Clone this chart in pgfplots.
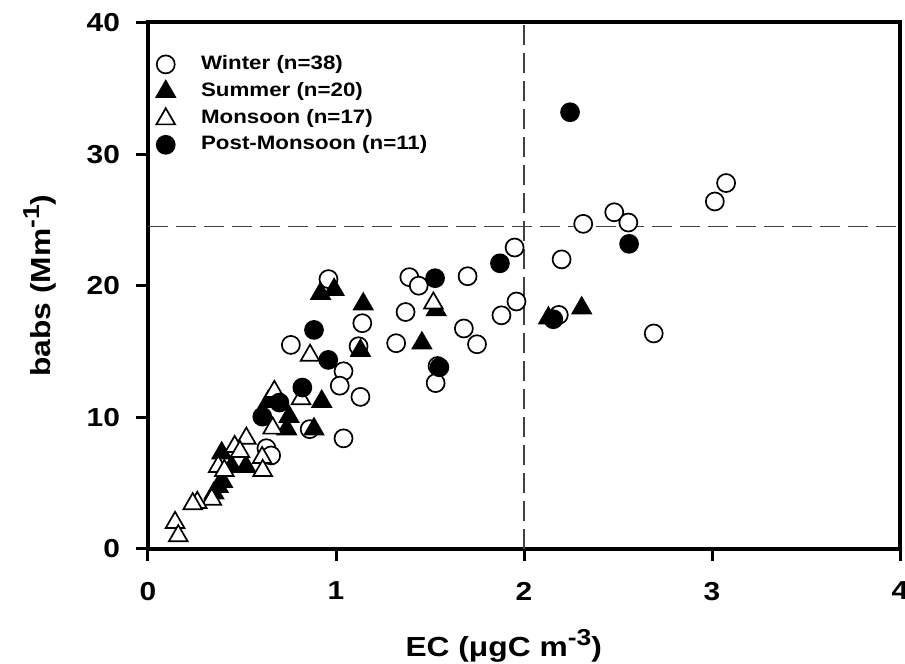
\documentclass[border=0pt]{standalone}
\usepackage{fontspec}
\setmainfont{Liberation Sans}[FakeStretch=1.15]
\usepackage{pgfplots}
\pgfplotsset{compat=1.18}

\begin{document}
\begin{tikzpicture}
\begin{axis}[name=ax, x=94pt, y=6.58pt,
  xmin=0, xmax=4, ymin=0, ymax=40,
  xtick={0,1,2,3,4}, ytick={0,10,20,30,40},
  tick pos=left, tick align=outside, major tick length=6pt,
  every tick/.style={black, line width=1.5pt},
  axis line style={line width=2pt},
  clip=false,
  /pgf/number format/assume math mode=true,
  tick label style={font=\fontsize{13}{13}\selectfont\bfseries},
  xticklabel style={yshift=-7pt},
  yticklabel style={xshift=-4.5pt},
  xlabel={EC (μgC m\raisebox{5.5pt}{\fontsize{11.5}{11}\selectfont -3})},
  ylabel={babs (Mm\raisebox{5.5pt}{\fontsize{11.5}{11}\selectfont -1})},
  xlabel style={at={(axis description cs:0.473,-0.205)}, anchor=base,
    font=\fontsize{13.8}{14}\selectfont\bfseries},
  ylabel style={at={(axis description cs:-0.1303,0.5)}, anchor=base,
    font=\fontsize{13.8}{14}\selectfont\bfseries},
  legend cell align=left,
  legend style={at={(axis description cs:0,1)}, anchor=north west,
    xshift=4pt, yshift=-16.1pt, draw=none, fill=none, inner sep=0pt,
    font=\fontsize{9.7}{10}\selectfont\bfseries, row sep=3.6pt,
    nodes={inner sep=0pt, text height=7pt, text depth=2.3pt},
    /tikz/every odd column/.append style={column sep=13pt}},
]
% reference lines
\addplot[forget plot, black!75, line width=0.7pt, dash pattern=on 10pt off 4pt]
  coordinates {(2,0) (2,40)};
\addplot[forget plot, black!75, line width=0.7pt, dash pattern=on 10pt off 4pt]
  coordinates {(0,24.5) (4,24.5)};

% Winter
\addplot[only marks, mark=*, mark size=4.5pt,
  mark options={fill=white, draw=black, line width=0.85pt}]
  coordinates {
    (0.76,15.5) (1.04,13.5) (1.02,12.4) (1.13,11.55) (1.12,15.4)
    (0.96,20.5) (1.14,17.15) (0.86,9.1) (1.04,8.4) (0.63,7.65)
    (0.655,7.1) (1.39,20.65) (1.44,20.0) (1.70,20.72) (1.37,18.0)
    (1.68,16.75) (1.75,15.55) (1.32,15.63) (1.54,13.9) (1.53,12.6)
    (1.88,17.75) (1.96,18.8) (1.95,22.9) (2.20,22.0) (2.185,17.78)
    (2.315,24.7) (2.48,25.58) (2.555,24.8) (3.015,26.4) (3.075,27.8)
    (2.69,16.37)
  };
\addlegendentry{Winter (n=38)}

% Summer
\addplot[only marks, mark=triangle*, mark size=5.4pt,
  mark options={fill=black, draw=black, line width=0.85pt}]
  coordinates {
    (0.918,19.4) (0.99,19.7) (1.145,18.6) (1.13,15.07) (0.924,11.2)
    (0.75,10.05) (0.738,9.1) (0.883,9.1) (0.392,7.27) (0.445,6.26)
    (0.521,6.26) (0.397,5.11) (0.374,4.73) (0.351,4.23) (1.457,15.63)
    (1.533,18.16) (2.13,17.53) (2.307,18.29) (0.64,11.2)
  };
\addlegendentry{Summer (n=20)}

% Monsoon
\addplot[only marks, mark=triangle*, mark size=5.4pt,
  mark options={fill=white, draw=black, line width=0.85pt}]
  coordinates {
    (0.862,14.7) (0.672,11.95) (0.814,11.4) (0.663,9.17) (0.523,8.4)
    (0.461,7.77) (0.489,7.39) (0.607,6.93) (0.374,6.26) (0.406,5.95)
    (0.61,5.95) (0.339,3.77) (0.262,3.52) (0.238,3.42) (0.144,2.0)
    (0.161,0.99) (1.518,18.67)
  };
\addlegendentry{Monsoon (n=17)}

% Post-monsoon
\addplot[only marks, mark=*, mark size=4.5pt,
  mark options={fill=black, draw=black, line width=0.85pt}]
  coordinates {
    (2.245,33.18) (2.559,23.18) (1.872,21.7) (1.527,20.57) (0.883,16.64)
    (0.959,14.36) (0.821,12.26) (0.699,11.12) (0.608,10.05) (1.55,13.8)
    (2.156,17.45)
  };
\addlegendentry{Post-Monsoon (n=11)}
\end{axis}
\pgfresetboundingbox
\path[use as bounding box] ([xshift=-74pt,yshift=-57.5pt]ax.south west)
  rectangle ([xshift=2.5pt,yshift=11.25pt]ax.north east);
\end{tikzpicture}
\end{document}
